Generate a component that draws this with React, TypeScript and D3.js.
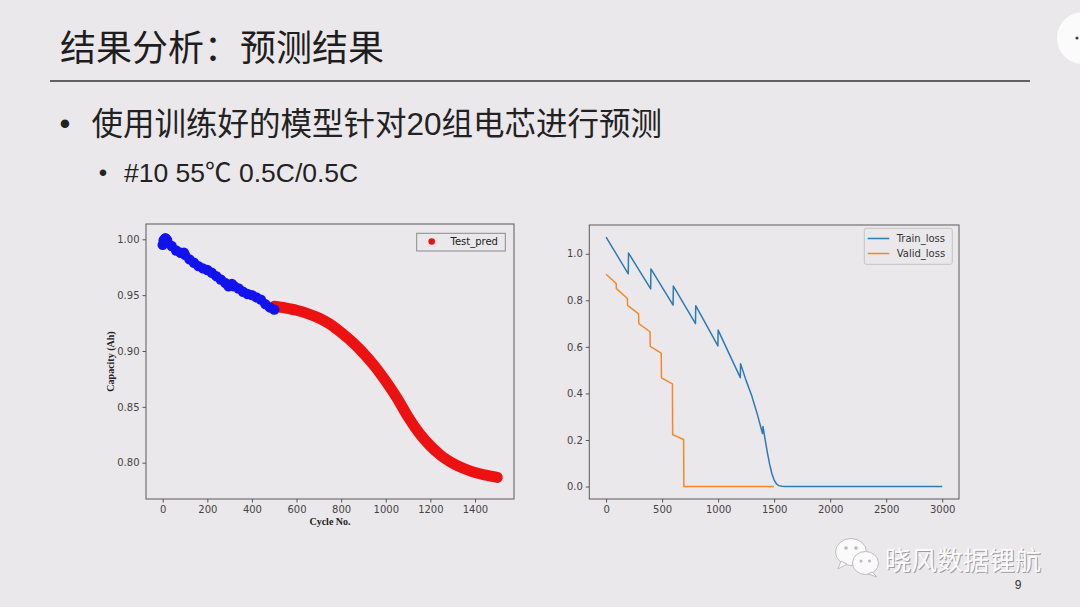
import React, { useEffect, useRef } from 'react';
import * as d3 from 'd3';

const W = 1080;
const H = 607;
const BG = '#ebe8eb';

// slide text
const titleText = '结果分析：预测结果';
const bulletMain = '使用训练好的模型针对20组电芯进行预测';
const bulletSub = '#10 55℃ 0.5C/0.5C';
const watermarkText = '晓风数据锂航';
const pageNo = '9';

// left chart: measured capacity (blue) + predicted capacity (red)
const measCycle = [0, 4, 8, 12, 16, 20, 40, 60, 80, 95, 100, 120, 140, 160, 180, 200, 220, 240, 260, 280, 295, 310, 320, 340, 360, 380, 400, 420, 440, 460, 480, 500];
const measCap = [0.995, 0.999, 1.0, 1.001, 1.0, 0.999, 0.994, 0.99, 0.988, 0.988, 0.986, 0.982, 0.979, 0.976, 0.974, 0.9725, 0.97, 0.967, 0.964, 0.961, 0.958, 0.96, 0.958, 0.956, 0.953, 0.951, 0.95, 0.948, 0.946, 0.942, 0.939, 0.937];
const predCycle = [500, 550, 600, 650, 700, 750, 800, 850, 900, 950, 1000, 1050, 1100, 1150, 1200, 1250, 1300, 1350, 1400, 1450, 1500];
const predCap = [0.94, 0.9385, 0.9365, 0.9335, 0.9295, 0.924, 0.9165, 0.908, 0.898, 0.8865, 0.873, 0.858, 0.841, 0.8265, 0.815, 0.806, 0.7995, 0.7948, 0.7912, 0.7888, 0.7868];
const capXTicks = [0, 200, 400, 600, 800, 1000, 1200, 1400];
const capYTicks = [0.8, 0.85, 0.9, 0.95, 1.0];

// right chart: losses
const trainEpoch = [0, 198, 200, 398, 400, 598, 600, 798, 800, 998, 1000, 1198, 1200, 1250, 1300, 1350, 1396, 1400, 1420, 1440, 1460, 1480, 1500, 1520, 1540, 1570, 1600, 3000];
const trainLoss = [1.071, 0.914, 1.003, 0.849, 0.935, 0.779, 0.861, 0.7, 0.777, 0.604, 0.672, 0.468, 0.527, 0.455, 0.39, 0.31, 0.228, 0.258, 0.2, 0.145, 0.095, 0.055, 0.028, 0.012, 0.004, 0.001, 0.0, 0.0];
const validEpoch = [0, 90, 92, 190, 192, 290, 292, 392, 394, 492, 494, 592, 594, 692, 694, 1500];
const validLoss = [0.912, 0.872, 0.85, 0.808, 0.778, 0.742, 0.7, 0.665, 0.602, 0.573, 0.467, 0.441, 0.223, 0.202, 0.0, 0.0];
const lossXTicks = [0, 500, 1000, 1500, 2000, 2500, 3000];
const lossYTicks = [0, 0.2, 0.4, 0.6, 0.8, 1.0];

const tickFont = 'DejaVu Sans, Liberation Sans, sans-serif';
const cjkFont = '"Liberation Sans", "Noto Sans CJK SC", sans-serif';

function drawAxes(
  g: d3.Selection<SVGGElement, unknown, null, undefined>,
  x: d3.ScaleLinear<number, number>,
  y: d3.ScaleLinear<number, number>,
  xTicks: number[],
  yTicks: number[],
  xFmt: (v: number) => string,
  yFmt: (v: number) => string
) {
  const [x0, x1] = x.range();
  const [yb, yt] = y.range();

  const xa = g.append('g')
    .attr('transform', `translate(0,${yb})`)
    .call(d3.axisBottom(x).tickValues(xTicks).tickFormat((d) => xFmt(+d)).tickSize(3.5).tickPadding(3).tickSizeOuter(0));
  const ya = g.append('g')
    .attr('transform', `translate(${x0},0)`)
    .call(d3.axisLeft(y).tickValues(yTicks).tickFormat((d) => yFmt(+d)).tickSize(3.5).tickPadding(3).tickSizeOuter(0));

  [xa, ya].forEach((a) => {
    a.select('.domain').remove();
    a.selectAll('.tick line').attr('stroke', '#555');
    a.selectAll('.tick text')
      .attr('fill', '#444')
      .attr('font-family', tickFont)
      .attr('font-size', 10);
  });

  // axes frame on top
  g.append('rect')
    .attr('x', x0).attr('y', yt)
    .attr('width', x1 - x0).attr('height', yb - yt)
    .attr('fill', 'none')
    .attr('stroke', '#5a5a5a')
    .attr('stroke-width', 1);
}

export default function App() {
  const svgRef = useRef<SVGSVGElement>(null);

  useEffect(() => {
    if (!svgRef.current) return;
    const svg = d3.select(svgRef.current);
    svg.selectAll('*').remove();

    svg.append('rect').attr('width', W).attr('height', H).attr('fill', BG);

    // ---- slide header ----
    svg.append('text')
      .attr('x', 60).attr('y', 60.5)
      .attr('font-family', cjkFont).attr('font-size', 36)
      .attr('fill', '#1e1e1e')
      .text(titleText);
    svg.append('line')
      .attr('x1', 50).attr('x2', 1030).attr('y1', 81).attr('y2', 81)
      .attr('stroke', '#333').attr('stroke-width', 1.3);

    svg.append('text')
      .attr('x', 65).attr('y', 134).attr('text-anchor', 'middle')
      .attr('font-family', cjkFont).attr('font-size', 31).attr('fill', '#222')
      .text('•');
    svg.append('text')
      .attr('x', 91.5).attr('y', 134.5)
      .attr('font-family', cjkFont).attr('font-size', 31.5).attr('fill', '#222')
      .text(bulletMain);

    svg.append('text')
      .attr('x', 103).attr('y', 181).attr('text-anchor', 'middle')
      .attr('font-family', cjkFont).attr('font-size', 24).attr('fill', '#222')
      .text('•');
    svg.append('text')
      .attr('x', 124).attr('y', 182)
      .attr('font-family', cjkFont).attr('font-size', 26.5).attr('fill', '#222')
      .text(bulletSub);

    // corner button
    svg.append('circle').attr('cx', 1083).attr('cy', 38).attr('r', 26).attr('fill', '#fbfbfb');
    svg.append('circle').attr('cx', 1077).attr('cy', 38).attr('r', 1.6).attr('fill', '#444');

    // ---- left chart ----
    const xL = d3.scaleLinear().domain([-75, 1575]).range([146, 514]);
    const yL = d3.scaleLinear().domain([0.7675, 1.0137]).range([499, 224]);
    const gL = svg.append('g');

    const predLine = d3.line<number>()
      .x((_, i) => xL(predCycle[i]))
      .y((d) => yL(d))
      .curve(d3.curveMonotoneX);
    gL.append('path')
      .attr('d', predLine(predCap))
      .attr('fill', 'none')
      .attr('stroke', '#ec1212')
      .attr('stroke-width', 11)
      .attr('stroke-linecap', 'round')
      .attr('stroke-linejoin', 'round');

    gL.selectAll('circle.meas')
      .data(measCap)
      .join('circle')
      .attr('class', 'meas')
      .attr('cx', (_, i) => xL(measCycle[i]))
      .attr('cy', (d) => yL(d))
      .attr('r', 5.2)
      .attr('fill', '#1212ee');

    drawAxes(gL, xL, yL, capXTicks, capYTicks, d3.format('d'), d3.format('.2f'));

    gL.append('text')
      .attr('x', 330).attr('y', 524.5).attr('text-anchor', 'middle')
      .attr('font-family', 'Liberation Serif, serif').attr('font-weight', 'bold')
      .attr('font-size', 10).attr('fill', '#222')
      .text('Cycle No.');
    gL.append('text')
      .attr('transform', 'translate(113.5,361.5) rotate(-90)')
      .attr('text-anchor', 'middle')
      .attr('font-family', 'Liberation Serif, serif').attr('font-weight', 'bold')
      .attr('font-size', 10).attr('fill', '#222')
      .text('Capacity (Ah)');

    // legend
    gL.append('rect')
      .attr('x', 416.7).attr('y', 233.3).attr('width', 88.6).attr('height', 17.7)
      .attr('fill', BG).attr('stroke', '#8a8a8a').attr('stroke-width', 1);
    gL.append('circle').attr('cx', 431.7).attr('cy', 241.5).attr('r', 3.3).attr('fill', '#ec1212');
    gL.append('text')
      .attr('x', 450.5).attr('y', 245.3)
      .attr('font-family', tickFont).attr('font-size', 10).attr('fill', '#222')
      .text('Test_pred');

    // ---- right chart ----
    const xR = d3.scaleLinear().domain([-150, 3150]).range([589.3, 959]);
    const yR = d3.scaleLinear().domain([-0.0535, 1.1235]).range([499, 225]);
    const gR = svg.append('g');

    const trainLine = d3.line<number>().x((_, i) => xR(trainEpoch[i])).y((d) => yR(d));
    const validLine = d3.line<number>().x((_, i) => xR(validEpoch[i])).y((d) => yR(d));

    gR.append('path')
      .attr('d', trainLine(trainLoss))
      .attr('fill', 'none').attr('stroke', '#2c7bb6').attr('stroke-width', 1.5)
      .attr('stroke-linejoin', 'round');
    gR.append('path')
      .attr('d', validLine(validLoss))
      .attr('fill', 'none').attr('stroke', '#f5872a').attr('stroke-width', 1.5)
      .attr('stroke-linejoin', 'round');

    drawAxes(gR, xR, yR, lossXTicks, lossYTicks, d3.format('d'), d3.format('.1f'));

    const legend = [
      { name: 'Train_loss', color: '#2c7bb6' },
      { name: 'Valid_loss', color: '#f5872a' },
    ];
    gR.append('rect')
      .attr('x', 864.3).attr('y', 228.3).attr('width', 88).attr('height', 36)
      .attr('rx', 2)
      .attr('fill', BG).attr('stroke', '#c4c4c4').attr('stroke-width', 1);
    legend.forEach((l, i) => {
      const yy = 238.5 + i * 15;
      gR.append('line')
        .attr('x1', 867.7).attr('x2', 889.3).attr('y1', yy).attr('y2', yy)
        .attr('stroke', l.color).attr('stroke-width', 1.5);
      gR.append('text')
        .attr('x', 896.7).attr('y', yy + 3.6)
        .attr('font-family', tickFont).attr('font-size', 10).attr('fill', '#333')
        .text(l.name);
    });

    // ---- watermark ----
    const wm = svg.append('g');
    wm.append('ellipse').attr('cx', 851).attr('cy', 552).attr('rx', 15.5).attr('ry', 13.5)
      .attr('fill', '#fafafa').attr('stroke', '#bdbdbd').attr('stroke-width', 1);
    wm.append('path').attr('d', 'M841,561 L838,569 L847,564 Z').attr('fill', '#fafafa').attr('stroke', '#bdbdbd');
    wm.append('circle').attr('cx', 846).attr('cy', 548).attr('r', 1.8).attr('fill', '#bbb');
    wm.append('circle').attr('cx', 856).attr('cy', 548).attr('r', 1.8).attr('fill', '#bbb');
    wm.append('ellipse').attr('cx', 865.5).attr('cy', 563).attr('rx', 13).attr('ry', 11.5)
      .attr('fill', '#fafafa').attr('stroke', '#bdbdbd').attr('stroke-width', 1);
    wm.append('path').attr('d', 'M872,572 L877,577 L868,574 Z').attr('fill', '#fafafa').attr('stroke', '#bdbdbd');
    wm.append('circle').attr('cx', 861).attr('cy', 561).attr('r', 1.5).attr('fill', '#bbb');
    wm.append('circle').attr('cx', 869.5).attr('cy', 561).attr('r', 1.5).attr('fill', '#bbb');

    wm.append('text')
      .attr('x', 886).attr('y', 571)
      .attr('font-family', cjkFont).attr('font-size', 26).attr('fill', '#8c8c8c').attr('opacity', 0.8)
      .text(watermarkText);
    wm.append('text')
      .attr('x', 885).attr('y', 570)
      .attr('font-family', cjkFont).attr('font-size', 26).attr('fill', '#fbfbfb')
      .text(watermarkText);

    svg.append('text')
      .attr('x', 1018).attr('y', 589).attr('text-anchor', 'middle')
      .attr('font-family', cjkFont).attr('font-size', 12).attr('fill', '#333')
      .text(pageNo);
  }, []);

  return (
    <svg
      ref={svgRef}
      width={W}
      height={H}
      style={{ position: 'absolute', left: 0, top: 0, display: 'block' }}
    />
  );
}
